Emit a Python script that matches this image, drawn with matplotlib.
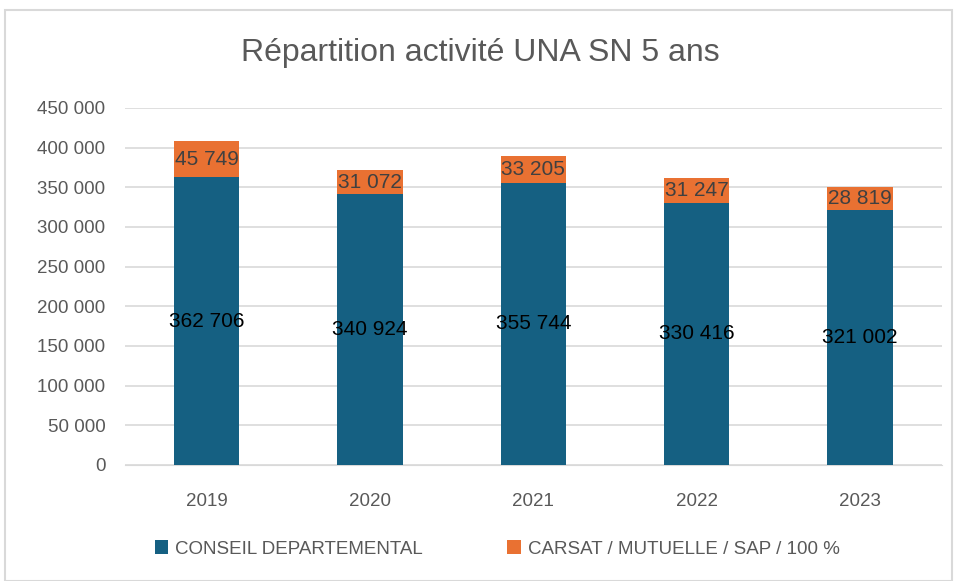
import matplotlib.pyplot as plt
from matplotlib.patches import Rectangle

years = ["2019", "2020", "2021", "2022", "2023"]
conseil = [362706, 340924, 355744, 330416, 321002]
carsat = [45749, 31072, 33205, 31247, 28819]
yticks = list(range(0, 450001, 50000))

blue = "#156082"
orange = "#E97132"
grey = "#595959"

plt.rcParams['font.family'] = ['Liberation Sans', 'DejaVu Sans']


def fmt(v):
    return f"{v:,}".replace(",", " ")


fig = plt.figure(figsize=(9.6, 5.81), dpi=100)
ax = fig.add_axes([0.130, 0.1997, 0.851, 0.6145])

x = range(len(years))
b1 = ax.bar(x, conseil, width=0.40, color=blue, label="CONSEIL DEPARTEMENTAL", zorder=3)
b2 = ax.bar(x, carsat, width=0.40, bottom=conseil, color=orange,
            label="CARSAT / MUTUELLE / SAP / 100 %", zorder=3)

ax.bar_label(b1, labels=[fmt(v) for v in conseil], label_type="center",
             fontsize=15, color="black")
ax.bar_label(b2, labels=[fmt(v) for v in carsat], label_type="center",
             fontsize=15, color="#404040")

ax.set_xlim(-0.5, 4.5)
ax.set_ylim(0, 450000)
ax.set_yticks(yticks)
ax.set_yticklabels([fmt(v) for v in yticks])
ax.set_xticks(list(x))
ax.set_xticklabels(years)
ax.tick_params(axis="both", length=0, labelsize=13.5, labelcolor=grey)
ax.tick_params(axis="x", pad=20)
ax.tick_params(axis="y", pad=14)
ax.grid(axis="y", color="#D9D9D9", linewidth=1.2, zorder=0)
for s in ["top", "right", "left"]:
    ax.spines[s].set_visible(False)
ax.spines["bottom"].set_color("#D9D9D9")

fig.suptitle("Répartition activité UNA SN 5 ans", y=0.935, fontsize=23, color=grey)

fig.legend(handles=[b1, b2], loc="center", bbox_to_anchor=(0.518, 0.055), ncol=2,
           frameon=False, fontsize=13.5, labelcolor=grey, handlelength=0.7,
           handleheight=0.7, columnspacing=4.5, handletextpad=0.4)

fig.patches.append(Rectangle((5 / 960, 0.0), 947 / 960, 1 - 10 / 581,
                             transform=fig.transFigure, fill=False,
                             edgecolor="#D9D9D9", linewidth=1.5))

fig.savefig("out.png", dpi=100)
